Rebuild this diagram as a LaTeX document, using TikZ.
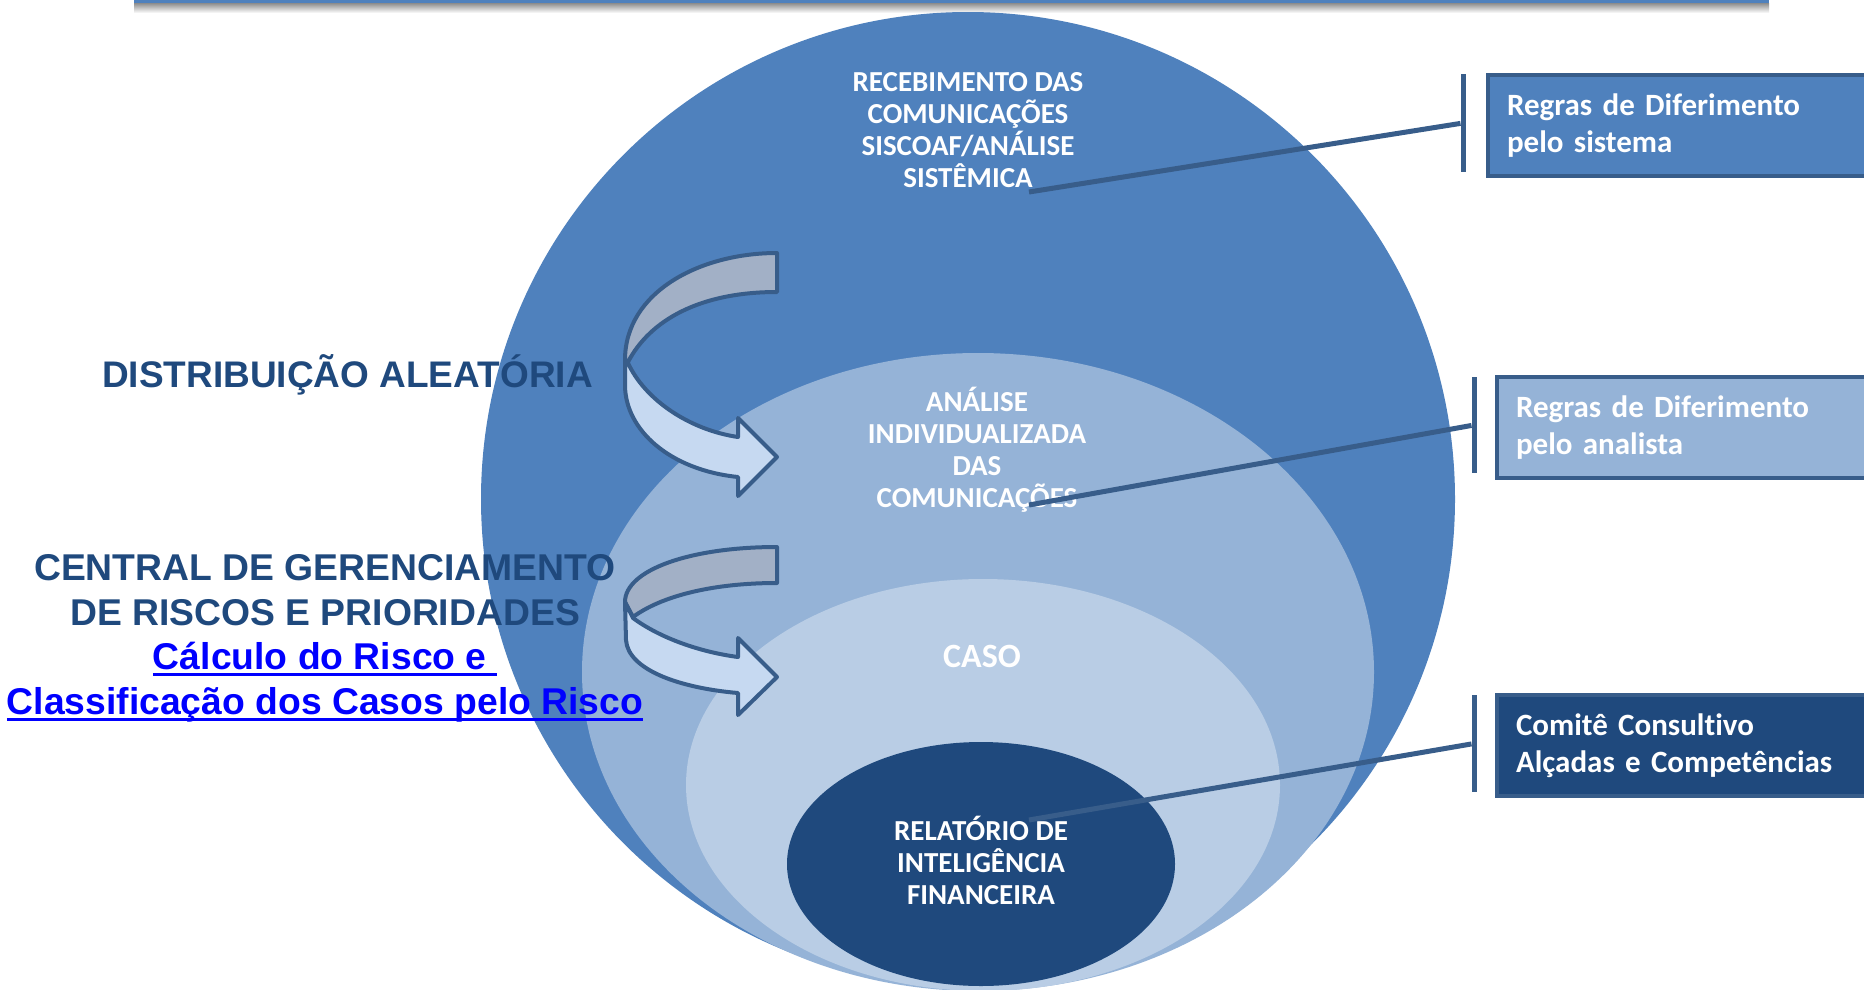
\documentclass[tikz,border=0pt]{standalone}
\usepackage{fontspec}
\setmainfont{Carlito}[Ligatures=NoCommon]
\newfontfamily\arialf{Liberation Sans}
\usetikzlibrary{shapes.geometric}
\definecolor{layA}{HTML}{4F81BD}
\definecolor{layB}{HTML}{95B3D7}
\definecolor{layC}{HTML}{B9CDE5}
\definecolor{layD}{HTML}{1F497D}
\definecolor{lineblue}{HTML}{385D8A}
\definecolor{greyband}{HTML}{A2B0C6}
\definecolor{lightband}{HTML}{C6D9F1}
\definecolor{darktext}{HTML}{1F497D}
\definecolor{linkblue}{HTML}{0000FF}
\newcommand\myul[1]{\setbox0\hbox{#1}\rlap{\rule[-6.5pt]{\wd0}{3pt}}\box0}
\tikzset{
  ell/.style={ellipse, inner sep=0pt, outer sep=0pt, draw=none},
  intext/.style={text=white, align=center, inner sep=0pt, font=\fontsize{29}{32}\selectfont\bfseries},
  lefttext/.style={text=darktext, align=center, inner sep=0pt},
  rbox/.style={draw=lineblue, line width=4pt, anchor=north west, minimum height=101pt, text width=400pt, inner xsep=19pt, inner ysep=0pt, align=left, text=white, font=\fontsize{31}{37}\selectfont\bfseries},
  barnode/.style={rectangle, fill=lineblue, minimum width=5pt, inner sep=0pt, outer sep=0pt},
  conn/.style={draw=lineblue, line width=5pt},
  backband/.style={fill=greyband, draw=lineblue, line width=4pt, line join=round},
  frontband/.style={fill=lightband, draw=lineblue, line width=4pt, line join=round}
}
\begin{document}
\begin{tikzpicture}[x=1pt,y=-1pt]
\useasboundingbox (0,0) rectangle (1864,989);
% top bar with shadow
\shade[top color=black!45, bottom color=white] (134,3) rectangle (1769,13);
\fill[layA] (134,0) rectangle (1769,3);
% nested layers
\node[ell, fill=layA, minimum width=974pt, minimum height=974pt] (recv) at (968,499) {};
\node[ell, fill=layB, minimum width=792pt, minimum height=638pt] (anal) at (978,672) {};
\node[ell, fill=layC, minimum width=594pt, minimum height=412pt] (caso) at (983,785) {};
\node[ell, fill=layD, minimum width=388pt, minimum height=244pt] (rif) at (981,864) {};
% layer texts
\node[intext] (recvtxt) at (968,130) {RECEBIMENTO DAS\\COMUNICAÇÕES\\SISCOAF/ANÁLISE\\SISTÊMICA};
\node[intext] (analtxt) at (977,450) {ANÁLISE\\INDIVIDUALIZADA\\DAS\\COMUNICAÇÕES};
\node[intext, font=\fontsize{34}{38}\selectfont\bfseries] (casotxt) at (982,656) {CASO};
\node[intext] (riftxt) at (981,860) {RELATÓRIO DE\\INTELIGÊNCIA\\FINANCEIRA};
% callout connectors
\coordinate (p1) at (1029,192);
\coordinate (p2) at (1029,505);
\coordinate (p3) at (1029,820);
\node[barnode, minimum height=98pt] (bar1) at (1463,123) {};
\node[barnode, minimum height=96pt] (bar2) at (1474,425) {};
\node[barnode, minimum height=97pt] (bar3) at (1474,743.5) {};
\draw[conn] (p1) -- (bar1);
\draw[conn] (p2) -- (bar2);
\draw[conn] (p3) -- (bar3);
% callout boxes
\node[rbox, fill=layA] (box1) at (1486,73) {Regras de Diferimento\\pelo sistema};
\node[rbox, fill=layB] (box2) at (1495,375) {Regras de Diferimento\\pelo analista};
\node[rbox, fill=layD] (box3) at (1495,693) {Comitê Consultivo\\Alçadas e Competências};
% curved arrow 1
\path[backband] (777,253) .. controls (700,253) and (625,292) .. (625,360)
  -- (628,362) .. controls (650,320) and (700,292) .. (777,292) -- cycle;
\path[frontband] (628,363) .. controls (645,400) and (690,430) .. (738,437)
  -- (738,418) -- (777,457) -- (738,496) -- (738,477)
  .. controls (670,470) and (625,430) .. (625,385) -- (625,360) -- cycle;
% curved arrow 2
\path[backband] (777,547) .. controls (690,547) and (625,570) .. (625,602)
  -- (633,617) .. controls (660,597) and (710,583) .. (777,583) -- cycle;
\path[frontband] (633,618) .. controls (660,638) and (700,652) .. (738,657)
  -- (738,638) -- (777,677) -- (738,715) -- (738,693)
  .. controls (680,688) and (628,670) .. (626,640) -- (625,602) -- cycle;
% left texts
\node[lefttext, font=\fontsize{37}{42}\selectfont\arialf\bfseries] (distr) at (347.5,375) {DISTRIBUIÇÃO ALEATÓRIA};
\node[lefttext, font=\fontsize{37.3}{44.5}\selectfont\arialf\bfseries] (central) at (325,638.5)
  {CENTRAL DE GERENCIAMENTO\\DE RISCOS E PRIORIDADES\\
   \textcolor{linkblue}{\myul{Cálculo do Risco e }}\\
   \textcolor{linkblue}{\myul{Classificação dos Casos pelo Risco}}};
\end{tikzpicture}
\end{document}
